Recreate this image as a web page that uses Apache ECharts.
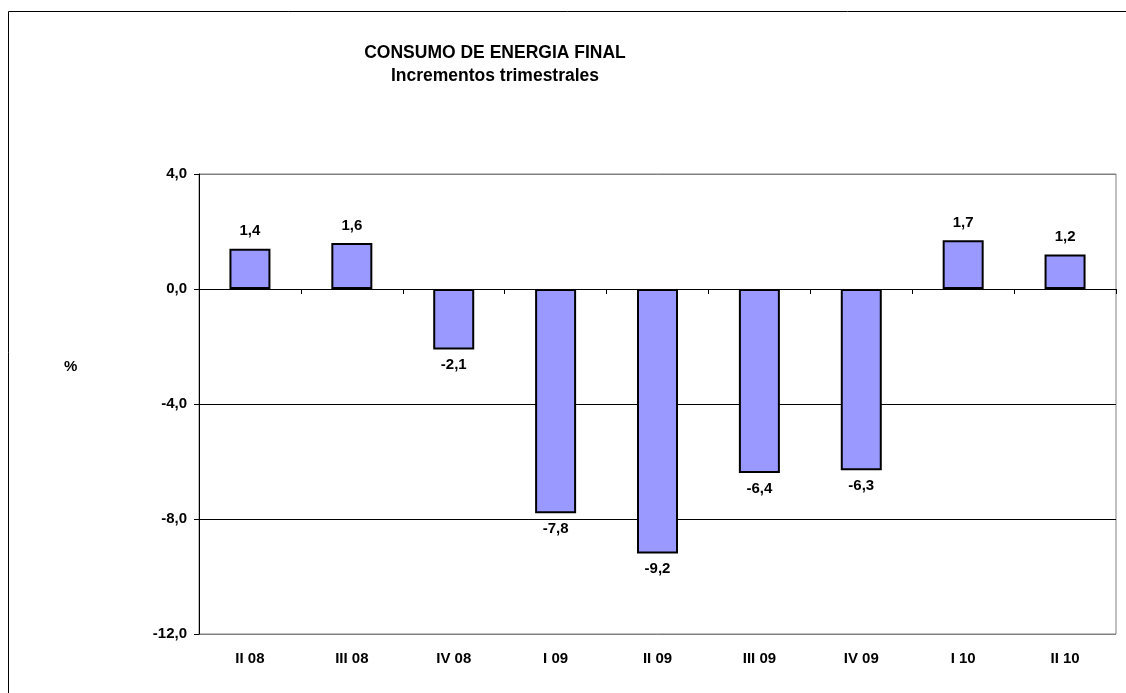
<!DOCTYPE html>
<html>
<head>
<meta charset="utf-8">
<script src="https://cdn.jsdelivr.net/npm/echarts@6/dist/echarts.min.js"></script>
<style>
  html, body { margin: 0; padding: 0; background: #fff; }
  #chart { width: 1126px; height: 693px; }
</style>
</head>
<body>
<div id="chart"></div>
<script>
  // trimestres
  const categories = ['II 08', 'III 08', 'IV 08', 'I 09', 'II 09', 'III 09', 'IV 09', 'I 10', 'II 10'];
  // incremento trimestral (%)
  const values = [1.4, 1.6, -2.1, -7.8, -9.2, -6.4, -6.3, 1.7, 1.2];
  const yMin = -12, yMax = 4, yStep = 4;

  const font = '"Liberation Sans", Arial, sans-serif';
  const comma = v => v.toFixed(1).replace('.', ',');

  const chart = echarts.init(document.getElementById('chart'));
  chart.setOption({
    animation: false,
    backgroundColor: '#fff',
    textStyle: { fontFamily: font },
    graphic: [
      { type: 'rect', shape: { x: 8.5, y: 11.5, width: 1140, height: 700 },
        style: { fill: 'none', stroke: '#000', lineWidth: 1 }, silent: true },
      { type: 'text', left: 64, top: 359,
        style: { text: '%', font: 'bold 15px ' + font, fill: '#000' } }
    ],
    title: {
      text: 'CONSUMO DE ENERGIA FINAL\nIncrementos trimestrales',
      left: 490, top: 37, textAlign: 'center',
      textStyle: { fontSize: 17.5, fontWeight: 'bold', color: '#000', lineHeight: 23, fontFamily: font }
    },
    grid: {
      left: 199, top: 174, right: 10, bottom: 59,
      show: true, borderColor: '#808080', borderWidth: 1, backgroundColor: 'transparent'
    },
    xAxis: [{
      type: 'category',
      data: categories,
      axisLine: { onZero: true, lineStyle: { color: '#000', width: 1 } },
      axisTick: { show: true, length: 5, lineStyle: { color: '#000' } },
      axisLabel: { show: false }
    }, {
      type: 'category',
      data: categories,
      position: 'bottom',
      axisLine: { show: false },
      axisTick: { show: false },
      axisLabel: { show: true, margin: 17, color: '#000', fontSize: 15, fontWeight: 'bold', fontFamily: font }
    }],
    yAxis: {
      type: 'value',
      min: yMin, max: yMax, interval: yStep,
      axisLine: { show: true, lineStyle: { color: '#000', width: 1 } },
      axisTick: { show: true, length: 5, lineStyle: { color: '#000' } },
      axisLabel: { color: '#000', fontSize: 15, fontWeight: 'bold', margin: 12, fontFamily: font,
        formatter: v => comma(v) },
      splitLine: { show: true, lineStyle: { color: ['#808080', '#000', '#000', '#000', '#808080'], width: 1 } }
    },
    series: [{
      type: 'bar',
      xAxisIndex: 0,
      data: values.map(v => v < 0 ? { value: v, label: { position: 'bottom', distance: 8 } } : v),
      barWidth: 41,
      itemStyle: { color: '#9999ff', borderColor: '#000', borderWidth: 2 },
      label: {
        show: true,
        position: 'top',
        distance: 10,
        color: '#000', fontSize: 15, fontWeight: 'bold', fontFamily: font,
        formatter: p => comma(p.value)
      }
    }]
  });
</script>
</body>
</html>
